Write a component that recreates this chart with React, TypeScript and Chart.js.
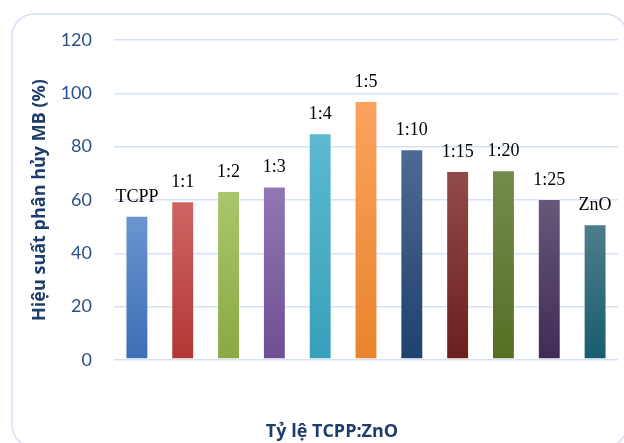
import React, { useEffect, useRef } from "react";
import { Chart, registerables } from "chart.js";

Chart.register(...registerables);

// Photocatalytic MB degradation efficiency by TCPP:ZnO ratio
const categories: string[] = ["TCPP", "1:1", "1:2", "1:3", "1:4", "1:5", "1:10", "1:15", "1:20", "1:25", "ZnO"];
const efficiency: number[] = [54.1, 59.5, 63.4, 65.1, 85.0, 97.1, 79.0, 70.9, 71.2, 60.4, 50.9];
const yTicks: number[] = [0, 20, 40, 60, 80, 100, 120];

// Gradient stops per bar: [top, bottom]
const barTop: string[] = ["#6B95D0", "#CE6563", "#AAC66B", "#9078B2", "#5DB9D1", "#FBA25F", "#4D6A93", "#904C4A", "#748C4B", "#675879", "#4F7D8A"];
const barBottom: string[] = ["#3C6EB4", "#B13633", "#89A943", "#6E4E93", "#37A0BA", "#E8842C", "#1F416D", "#6C1E1C", "#556F24", "#3F2B55", "#175D6E"];

const yTitle = "Hiệu suất phân hủy MB (%)";
const xTitle = "Tỷ lệ TCPP:ZnO";

const W = 624;
const H = 443;
const titleFont = "'Open Sans', sans-serif";

const framePlugin = {
  id: "frame",
  beforeDraw(chart: any) {
    const ctx = chart.ctx;
    const x0 = 12, y0 = 14, x1 = 627, y1 = 447, r = 22;
    ctx.save();
    ctx.fillStyle = "#ffffff";
    ctx.fillRect(0, 0, W, H);
    ctx.beginPath();
    ctx.moveTo(x0 + r, y0);
    ctx.lineTo(x1 - r, y0);
    ctx.arcTo(x1, y0, x1, y0 + r, r);
    ctx.lineTo(x1, y1 - r);
    ctx.arcTo(x1, y1, x1 - r, y1, r);
    ctx.lineTo(x0 + r, y1);
    ctx.arcTo(x0, y1, x0, y1 - r, r);
    ctx.lineTo(x0, y0 + r);
    ctx.arcTo(x0, y0, x0 + r, y0, r);
    ctx.closePath();
    ctx.strokeStyle = "#D5E1F2";
    ctx.lineWidth = 1.5;
    ctx.stroke();
    ctx.restore();
  },
};

const labelPlugin = {
  id: "barLabels",
  afterDatasetsDraw(chart: any) {
    const ctx = chart.ctx;
    const meta = chart.getDatasetMeta(0);
    ctx.save();
    ctx.font = "18px 'Liberation Serif', 'Times New Roman', serif";
    ctx.fillStyle = "#000000";
    ctx.textAlign = "center";
    ctx.textBaseline = "alphabetic";
    meta.data.forEach((bar: any, i: number) => {
      ctx.fillText(categories[i], bar.x, bar.y - 14);
    });
    // horizontal axis title
    ctx.font = `bold 18px ${titleFont}`;
    ctx.fillStyle = "#1F3D6B";
    ctx.textBaseline = "middle";
    ctx.fillText(xTitle, 332, 432);
    ctx.restore();
  },
};

export default function App() {
  const ref = useRef<HTMLCanvasElement | null>(null);

  useEffect(() => {
    if (!ref.current) return;
    const chart = new Chart(ref.current, {
      type: "bar",
      data: {
        labels: categories,
        datasets: [
          {
            data: efficiency,
            backgroundColor: (c: any) => {
              const chart = c.chart;
              const area = chart.chartArea;
              const i = c.dataIndex;
              if (!area || i === undefined) return barBottom[i ?? 0];
              const top = chart.scales.y.getPixelForValue(efficiency[i]);
              const g = chart.ctx.createLinearGradient(0, top, 0, area.bottom);
              g.addColorStop(0, barTop[i]);
              g.addColorStop(1, barBottom[i]);
              return g;
            },
            borderColor: "rgba(255,255,255,0.3)",
            borderWidth: 1,
            borderSkipped: false,
            categoryPercentage: 1,
            barPercentage: 0.5,
          },
        ],
      },
      options: {
        responsive: false,
        animation: false,
        layout: { padding: { top: 40, right: 6, left: 0, bottom: 0 } },
        plugins: {
          legend: { display: false },
          tooltip: { enabled: false },
          title: { display: false },
        },
        scales: {
          x: {
            grid: { display: false },
            border: { display: false },
            ticks: { display: false },
            afterFit: (s: any) => {
              s.height = 83;
            },
          },
          y: {
            min: 0,
            max: 120,
            afterBuildTicks: (s: any) => {
              s.ticks = yTicks.map((v) => ({ value: v }));
            },
            grid: { color: "#D6E2F4", lineWidth: 1.5, drawTicks: false },
            border: { display: false },
            ticks: {
              padding: 22,
              color: "#2D5089",
              font: { family: "Lato, sans-serif", size: 18 },
            },
            title: {
              display: true,
              text: yTitle,
              color: "#1F3D6B",
              font: { family: titleFont, size: 18, weight: "bold", lineHeight: 1.2 },
              padding: { top: 29, bottom: 0 },
            },
            afterFit: (s: any) => {
              s.width = 114;
            },
          },
        },
      },
      plugins: [framePlugin, labelPlugin],
    });
    return () => chart.destroy();
  }, []);

  return (
    <div style={{ position: "fixed", left: 0, top: 0, width: W, height: H, background: "#fff" }}>
      <canvas ref={ref} width={W} height={H} style={{ display: "block" }} />
    </div>
  );
}
